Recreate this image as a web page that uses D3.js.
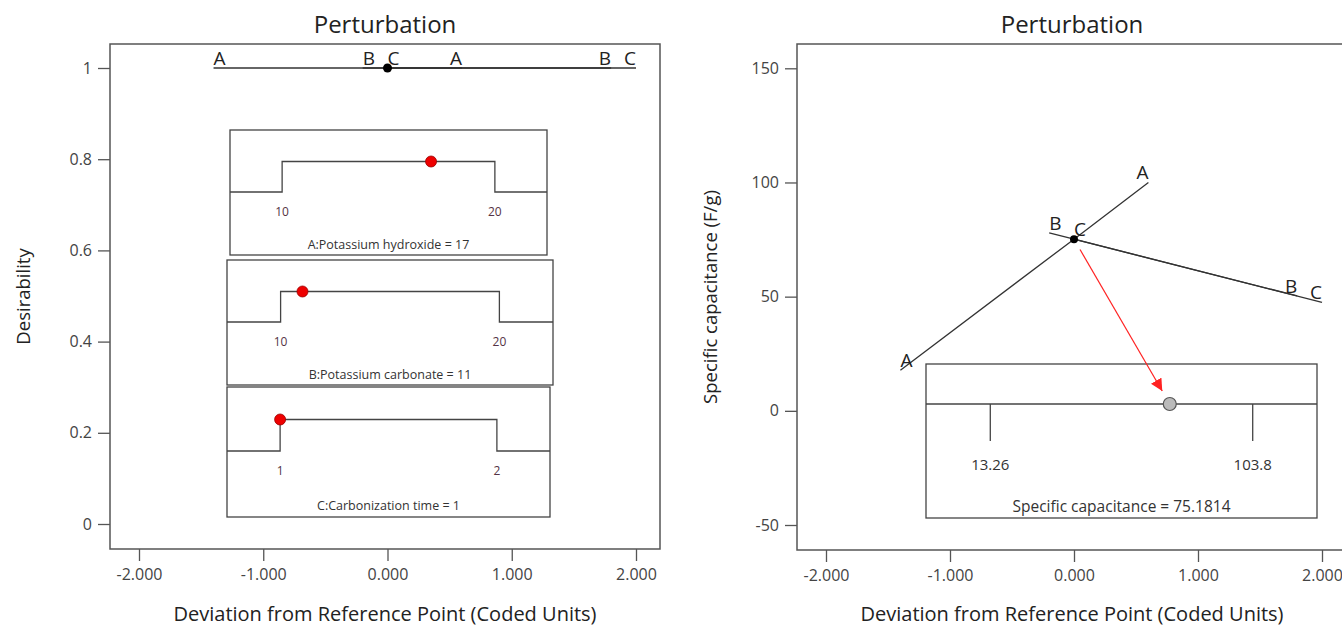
<!DOCTYPE html>
<html>
<head>
<meta charset="utf-8">
<script src="https://cdn.jsdelivr.net/npm/d3@7"></script>
<style>
  body{margin:0;background:#fff;}
  svg text{font-family:"Open Sans","Noto Sans",sans-serif;fill:#333;}
  .axis path.domain{display:none;}
  .axis line{stroke:#555;stroke-width:1.3;}
  .axis text{font-size:16px;fill:#444;}
</style>
</head>
<body>
<svg id="chart" width="1342" height="627"></svg>
<script>
// ---- data ----
var xTicks = [-2, -1, 0, 1, 2];
var desTicks = [0, 0.2, 0.4, 0.6, 0.8, 1];
var capTicks = [-50, 0, 50, 100, 150];

// perturbation traces: [deviation (coded), response]
var desA = [[-1.4, 1], [0.6, 1]];
var desB = [[-0.2, 1], [1.8, 1]];
var desC = [[0, 1], [2, 1]];
var capA = [[-1.4, 17.8], [0, 75.18], [0.6, 100]];
var capB = [[-0.2, 77.9], [0, 75.18], [1.8, 50.3]];
var capC = [[0, 75.18], [2, 47.5]];
var refDes = 1;
var refCap = 75.1814;

// factor sliders
var sliderNames = ["A:Potassium hydroxide", "B:Potassium carbonate", "C:Carbonization time"];
var sliderLow = [10, 10, 1];
var sliderHigh = [20, 20, 2];
var sliderValue = [17, 11, 1];
var sliderLowLabel = ["10", "10", "1"];
var sliderHighLabel = ["20", "20", "2"];

// response slider
var capName = "Specific capacitance";
var capLow = 13.26, capHigh = 103.8;
var capLowLabel = "13.26", capHighLabel = "103.8";

// ---- layout ----
var svg = d3.select("#chart");
var line = d3.line();
var pad = 0.245; // slider padding as share of range
var hyph = function(f){ return function(v){ return f(v).replace("\u2212", "-"); }; };

var panels = [
  {fx: 110, fy: 44, fw: 550, fh: 505, title: "Perturbation", ylabel: "Desirability",
   xr: [139, 636], ydom: [0, 1], yr: [524, 68], yticks: desTicks},
  {fx: 797, fy: 44, fw: 550, fh: 506, title: "Perturbation", ylabel: "Specific capacitance (F/g)",
   xr: [826, 1322], ydom: [-50, 150], yr: [525, 68.3], yticks: capTicks}
];

panels.forEach(function(p){
  p.x = d3.scaleLinear().domain([-2, 2]).range(p.xr);
  p.y = d3.scaleLinear().domain(p.ydom).range(p.yr);

  svg.append("g").attr("class", "axis")
    .attr("transform", "translate(0," + (p.fy + p.fh) + ")")
    .call(d3.axisBottom(p.x).tickValues(xTicks).tickFormat(hyph(d3.format(".3f")))
      .tickSize(12).tickPadding(8));

  svg.append("g").attr("class", "axis")
    .attr("transform", "translate(" + p.fx + ",0)")
    .call(d3.axisLeft(p.y).tickValues(p.yticks).tickFormat(hyph(d3.format("")))
      .tickSize(12).tickPadding(6));

  svg.append("rect")
    .attr("x", p.fx).attr("y", p.fy).attr("width", p.fw).attr("height", p.fh)
    .attr("fill", "none").attr("stroke", "#555").attr("stroke-width", 1.5);

  svg.append("text")
    .attr("x", p.fx + p.fw / 2).attr("y", 25).attr("dy", "0.35em")
    .attr("text-anchor", "middle").style("font-size", "24px").style("fill", "#222")
    .text(p.title);

  svg.append("text")
    .attr("x", p.fx + p.fw / 2).attr("y", 614).attr("dy", "0.35em")
    .attr("text-anchor", "middle").style("font-size", "20px").style("fill", "#222")
    .text("Deviation from Reference Point (Coded Units)");

  svg.append("text")
    .attr("transform", "translate(" + (p.fx - 86) + "," + (p.fy + p.fh / 2) + ") rotate(-90)")
    .attr("dy", "0.35em").attr("text-anchor", "middle")
    .style("font-size", "18.5px").style("fill", "#222")
    .text(p.ylabel);
});

function drawTrace(p, pts, name){
  var px = pts.map(function(d){ return [p.x(d[0]), p.y(d[1])]; });
  svg.append("path").attr("d", line(px))
    .attr("fill", "none").attr("stroke", "#333").attr("stroke-width", 1.3);
  var a = px[0], b = px[px.length - 1];
  svg.append("text").attr("x", a[0]).attr("y", a[1] - 3)
    .attr("text-anchor", "start").style("font-size", "19px").style("fill", "#222").text(name);
  svg.append("text").attr("x", b[0]).attr("y", b[1] - 3)
    .attr("text-anchor", "end").style("font-size", "19px").style("fill", "#222").text(name);
}

// left panel
var L = panels[0];
drawTrace(L, desA, "A");
drawTrace(L, desB, "B");
drawTrace(L, desC, "C");
svg.append("circle").attr("cx", L.x(0)).attr("cy", L.y(refDes)).attr("r", 4.5).attr("fill", "#000");

// factor slider insets
var boxes = [
  {x: 230, y: 130, w: 317, h: 125, lo: 31.5, hi: 62, lab: 82, tit: 115},
  {x: 227, y: 260, w: 326, h: 125, lo: 31.5, hi: 62, lab: 82, tit: 115},
  {x: 227, y: 387, w: 323, h: 130, lo: 32.5, hi: 64, lab: 84, tit: 119}
];
boxes.forEach(function(b, i){
  var lo = sliderLow[i], hi = sliderHigh[i], r = hi - lo;
  var sx = d3.scaleLinear().domain([lo - pad * r, hi + pad * r]).range([b.x, b.x + b.w]);
  var sy = d3.scaleLinear().domain([0, 1]).range([b.y + b.hi, b.y + b.lo]);
  svg.append("rect").attr("x", b.x).attr("y", b.y).attr("width", b.w).attr("height", b.h)
    .attr("fill", "#fff").attr("stroke", "#444").attr("stroke-width", 1.3);
  var step = [[sx.domain()[0], 0], [lo, 0], [lo, 1], [hi, 1], [hi, 0], [sx.domain()[1], 0]];
  svg.append("path").attr("d", line(step.map(function(d){ return [sx(d[0]), sy(d[1])]; })))
    .attr("fill", "none").attr("stroke", "#444").attr("stroke-width", 1.3);
  svg.append("text").attr("x", sx(lo)).attr("y", b.y + b.lab).attr("dy", "0.35em")
    .attr("text-anchor", "middle").style("font-size", "12px").style("fill", "#534")
    .text(sliderLowLabel[i]);
  svg.append("text").attr("x", sx(hi)).attr("y", b.y + b.lab).attr("dy", "0.35em")
    .attr("text-anchor", "middle").style("font-size", "12px").style("fill", "#534")
    .text(sliderHighLabel[i]);
  svg.append("text").attr("x", b.x + b.w / 2).attr("y", b.y + b.tit).attr("dy", "0.35em")
    .attr("text-anchor", "middle").style("font-size", "12.5px").style("fill", "#333")
    .text(sliderNames[i] + " =  " + sliderValue[i]);
  svg.append("circle").attr("cx", sx(sliderValue[i])).attr("cy", sy(1)).attr("r", 5.5)
    .attr("fill", "#e00").attr("stroke", "#900").attr("stroke-width", 0.8);
});

// right panel
var R = panels[1];
drawTrace(R, capA, "A");
drawTrace(R, capB, "B");
drawTrace(R, capC, "C");

var cb = {x: 926, y: 364, w: 391, h: 154};
var cr = capHigh - capLow;
var cx = d3.scaleLinear().domain([capLow - pad * cr, capHigh + pad * cr]).range([cb.x, cb.x + cb.w]);
var lineY = cb.y + 40;
svg.append("rect").attr("x", cb.x).attr("y", cb.y).attr("width", cb.w).attr("height", cb.h)
  .attr("fill", "#fff").attr("stroke", "#444").attr("stroke-width", 1.3);
svg.append("line").attr("x1", cb.x).attr("x2", cb.x + cb.w).attr("y1", lineY).attr("y2", lineY)
  .attr("stroke", "#444").attr("stroke-width", 1.3);
[[capLow, capLowLabel], [capHigh, capHighLabel]].forEach(function(t){
  svg.append("line").attr("x1", cx(t[0])).attr("x2", cx(t[0])).attr("y1", lineY).attr("y2", lineY + 37)
    .attr("stroke", "#444").attr("stroke-width", 1.3);
  svg.append("text").attr("x", cx(t[0])).attr("y", cb.y + 101).attr("dy", "0.35em")
    .attr("text-anchor", "middle").style("font-size", "15px").style("fill", "#333").text(t[1]);
});
svg.append("text").attr("x", cb.x + cb.w / 2).attr("y", cb.y + 143).attr("dy", "0.35em")
  .attr("text-anchor", "middle").style("font-size", "15.5px").style("fill", "#333")
  .text(capName + " = " + refCap);

// arrow from reference point to response slider
svg.append("defs").append("marker")
  .attr("id", "arr").attr("viewBox", "0 0 10 10").attr("refX", 10).attr("refY", 5)
  .attr("markerWidth", 12).attr("markerHeight", 12).attr("markerUnits", "userSpaceOnUse")
  .attr("orient", "auto")
  .append("path").attr("d", "M0,0L10,5L0,10z").attr("fill", "#f22");
var p0 = [R.x(0), R.y(refCap)], p1 = [cx(refCap), lineY];
var dx = p1[0] - p0[0], dy = p1[1] - p0[1], len = Math.sqrt(dx * dx + dy * dy);
var ux = dx / len, uy = dy / len;
svg.append("line")
  .attr("x1", p0[0] + ux * 12).attr("y1", p0[1] + uy * 12)
  .attr("x2", p1[0] - ux * 15).attr("y2", p1[1] - uy * 15)
  .attr("stroke", "#f22").attr("stroke-width", 1.2).attr("marker-end", "url(#arr)");

svg.append("circle").attr("cx", cx(refCap)).attr("cy", lineY).attr("r", 6.5)
  .attr("fill", "#bbb").attr("stroke", "#555").attr("stroke-width", 1.2);
svg.append("circle").attr("cx", p0[0]).attr("cy", p0[1]).attr("r", 4).attr("fill", "#000");
</script>
</body>
</html>
